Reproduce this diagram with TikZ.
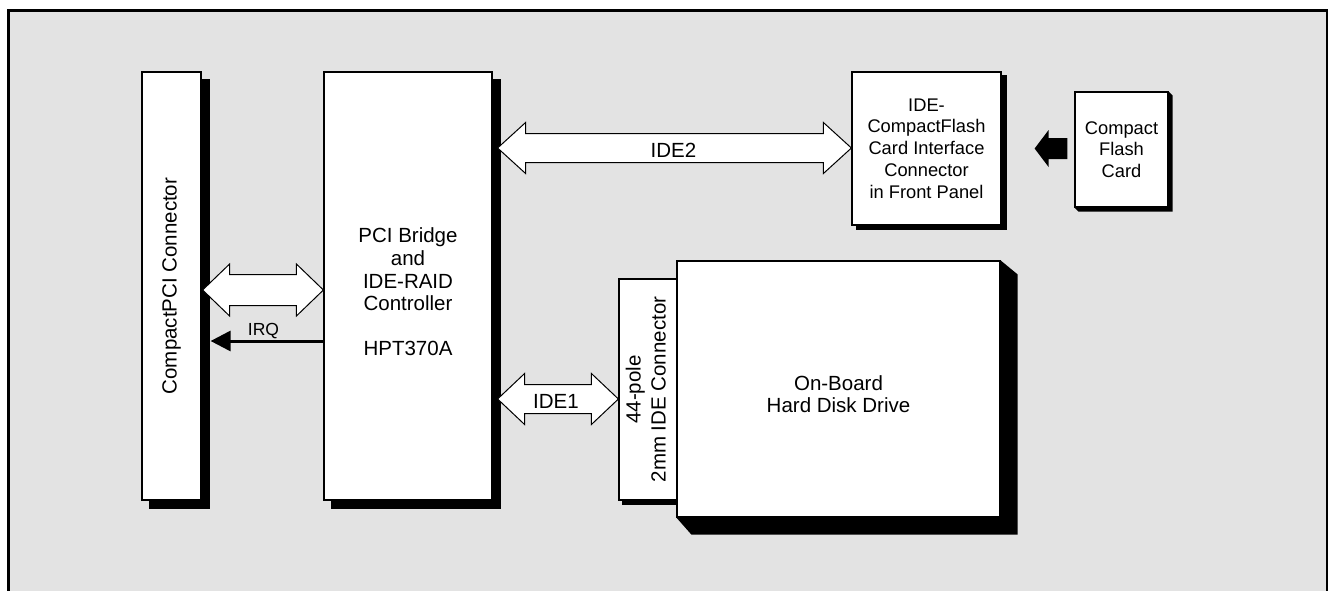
\documentclass[tikz,border=0pt]{standalone}
\usepackage{fontspec}
\setmainfont{Liberation Sans}
\usetikzlibrary{calc,arrows.meta}
\pgfdeclarelayer{bgl}
\pgfdeclarelayer{shl}
\pgfsetlayers{bgl,shl,main}
\definecolor{panel}{RGB}{227,227,227}
\tikzset{
  box/.style={draw=black, line width=1.2pt, fill=white, inner sep=0pt, align=center,
              font=\fontsize{20.5}{22.6}\selectfont},
  smallbox/.style={box, font=\fontsize{18.3}{21.8}\selectfont},
  txt/.style={inner sep=0pt, align=center, font=\fontsize{20.5}{22.6}\selectfont},
  dbl/.style={draw=black, line width=1pt, fill=white},
  lbl/.style={font=\fontsize{20.5}{22}\selectfont, inner sep=0pt, anchor=base},
  irqarrow/.style={line width=3pt, -{Triangle[length=20pt,width=20pt]}},
}
\newcommand\dblarrow[5]{%
  \draw[dbl] let \p1=(#1), \p2=(#2) in
    (\x1,\y1) -- (\x1+#5pt,\y1+#4pt) -- (\x1+#5pt,\y1+#3pt) -- (\x2-#5pt,\y1+#3pt)
    -- (\x2-#5pt,\y1+#4pt) -- (\x2,\y1) -- (\x2-#5pt,\y1-#4pt) -- (\x2-#5pt,\y1-#3pt)
    -- (\x1+#5pt,\y1-#3pt) -- (\x1+#5pt,\y1-#4pt) -- cycle;}
\begin{document}
\begin{tikzpicture}[x=1pt,y=-1pt]
\useasboundingbox (0,0) rectangle (1328,590);
\begin{pgfonlayer}{bgl}
  \fill[panel] (8.5,10.5) rectangle (1328,600);
  \draw[line width=3.2pt] (8.5,600) -- (8.5,10.8) -- (1327.5,10.8) -- (1327.5,600);
\end{pgfonlayer}

% nodes
\node[box, minimum width=59pt, minimum height=428pt] (cpci) at (171.5,286)
  {\rotatebox{90}{CompactPCI Connector}};
\node[box, minimum width=168pt, minimum height=428pt] (bridge) at (408,286) {};
\node[txt] (bridgetxt) at (408,292)
  {PCI Bridge\\and\\IDE-RAID\\Controller\\[22.6pt]HPT370A};
\node[smallbox, minimum width=149pt, minimum height=153pt] (cfi) at (926.5,148.5)
  {IDE-\\CompactFlash\\Card Interface\\Connector\\in Front Panel};
\node[smallbox, minimum width=93pt, minimum height=115pt] (card) at (1121.5,149.5)
  {Compact\\Flash\\Card};
\node[box, minimum width=323pt, minimum height=256pt] (hdd) at (838.5,389) {};
\node[txt] (hddtxt) at (838.5,394) {On-Board\\Hard Disk Drive};
\node[box, minimum width=58pt, minimum height=221pt] (conn) at (648,389.5)
  {\rotatebox{90}{\fontsize{20.5}{25}\selectfont\begin{tabular}{@{}c@{}}44-pole\\2mm IDE Connector\end{tabular}}};

% shadows
\begin{pgfonlayer}{shl}
  \fill ([shift={(8,8)}]cpci.north west) rectangle ([shift={(8,8)}]cpci.south east);
  \fill ([shift={(8,8)}]bridge.north west) rectangle ([shift={(8,8)}]bridge.south east);
  \fill ([shift={(5,4)}]cfi.north west) rectangle ([shift={(5,4)}]cfi.south east);
  \fill ([shift={(4,4)}]conn.north west) rectangle ([shift={(4,4)}]conn.south east);
  \fill (hdd.north east) -- ([shift={(17,14)}]hdd.north east) -- ([shift={(17,17)}]hdd.south east)
        -- ([shift={(15,17)}]hdd.south west) -- (hdd.south west) -- cycle;
  \fill (card.north east) -- ([shift={(4,4)}]card.north east) -- ([shift={(4,4)}]card.south east)
        -- ([shift={(4,4)}]card.south west) -- (card.south west) -- cycle;
\end{pgfonlayer}

% levels
\coordinate (yIDE2) at (0,148);
\coordinate (yPCI) at (0,290);
\coordinate (yIRQ) at (0,341);
\coordinate (yIDE1) at (0,399);

% connectors
\dblarrow{$(bridge.east |- yIDE2)+(5,0)$}{cfi.west |- yIDE2}{14.5}{25.5}{28}
\dblarrow{$(cpci.east |- yPCI)+(1,0)$}{bridge.west |- yPCI}{15.5}{26}{27}
\dblarrow{$(bridge.east |- yIDE1)+(5,0)$}{conn.west |- yIDE1}{14.5}{25.5}{27}
\draw[irqarrow] (bridge.west |- yIRQ) -- ($(cpci.east |- yIRQ)+(9,0)$);
\fill let \p1=($(cfi.east)+(33,0)$), \p2=($(card.west |- cfi.east)+(-7,0)$) in
  (\x1,\y1) -- (\x1+14pt,\y1+18.5pt) -- (\x1+14pt,\y1+10.5pt) -- (\x2,\y1+10.5pt)
  -- (\x2,\y1-10.5pt) -- (\x1+14pt,\y1-10.5pt) -- (\x1+14pt,\y1-18.5pt) -- cycle;

% labels
\node[lbl] (ide2lbl) at (673.5,157.5) {IDE2};
\node[lbl] (ide1lbl) at (556,408) {IDE1};
\node[lbl, font=\fontsize{17.5}{20}\selectfont] (irqlbl) at (263.5,335) {IRQ};
\end{tikzpicture}
\end{document}
